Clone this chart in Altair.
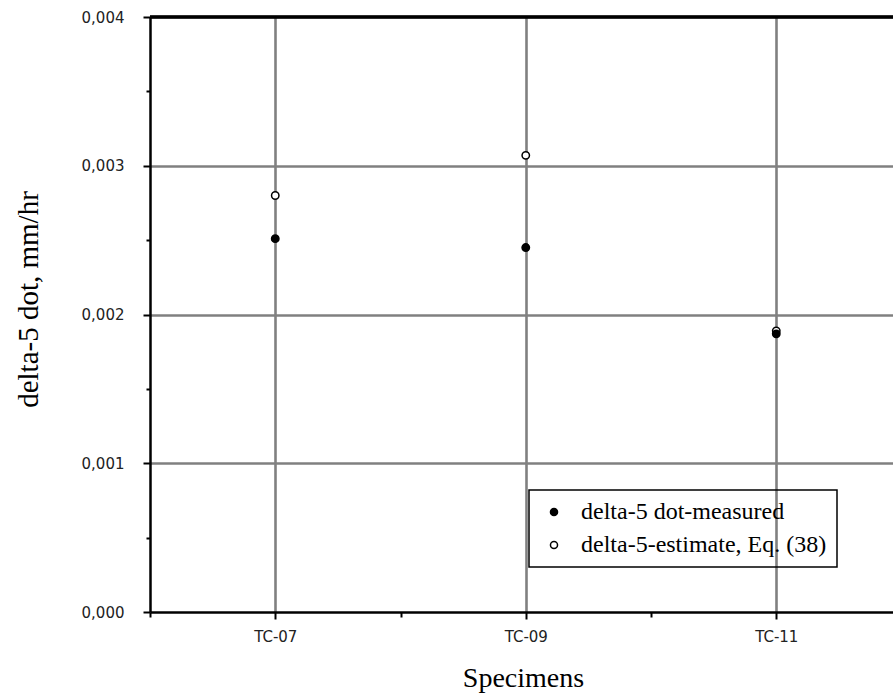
import altair as alt
import pandas as pd

# Specimens and creep-rate values (mm/hr)
specimens = ["TC-07", "TC-09", "TC-11"]
measured = [0.00251, 0.00245, 0.00187]
estimated = [0.00280, 0.00307, 0.00189]
series_names = ["delta-5 dot-measured", "delta-5-estimate, Eq. (38)"]

# Axis tick values: majors carry labels, the halves are minor ticks
x_ticks = [-0.5, 0, 0.5, 1, 1.5, 2]
y_ticks = [0.0, 0.0005, 0.001, 0.0015, 0.002, 0.0025, 0.003, 0.0035, 0.004]

rows = []
for name, vals in ((series_names[1], estimated), (series_names[0], measured)):
    for i, (s, v) in enumerate(zip(specimens, vals)):
        rows.append({"specimen": s, "pos": i, "rate": v, "series": name})
df = pd.DataFrame(rows)

label_array = "[" + ",".join("'" + s + "'" for s in specimens) + "]"
x_minor = "datum.value - floor(datum.value) !== 0"
x_label_expr = "(" + x_minor + ") ? '' : " + label_array + "[datum.value]"
y_major = "abs(datum.value * 1000 - round(datum.value * 1000)) < 1e-6"
y_label_expr = "(" + y_major + ") ? replace(format(datum.value, '.3f'), '.', ',') : ''"

W, H = 743, 595
SERIF = "Liberation Serif"
SANS = "DejaVu Sans"

x_axis = alt.Axis(
    values=x_ticks,
    labelExpr=x_label_expr,
    title="Specimens",
    titleFont=SERIF, titleFontSize=28, titleFontWeight="normal", titleColor="black",
    titleX=373, titleY=74, titleBaseline="alphabetic", titleAlign="center",
    labelFont=SANS, labelFontSize=15, labelColor="#222", labelPadding=10,
    domainColor="black", domainWidth=2.5,
    tickColor="black", tickWidth=2,
    tickSize={"condition": {"test": x_minor, "value": 5}, "value": 7},
    grid=True, gridColor="#808080", gridWidth=2.6,
    gridOpacity={"condition": {"test": x_minor, "value": 0}, "value": 1},
)

y_axis = alt.Axis(
    values=y_ticks,
    labelExpr=y_label_expr,
    title="delta-5 dot, mm/hr",
    titleFont=SERIF, titleFontSize=29, titleFontWeight="normal", titleColor="black",
    titleX=-122, titleY=282, titleBaseline="middle", titleAlign="center", titleAngle=270,
    labelFont=SANS, labelFontSize=15, labelColor="#222", labelPadding=19,
    domainColor="black", domainWidth=2.5,
    tickColor="black", tickWidth=2,
    tickSize={"condition": {"test": "!(" + y_major + ")", "value": 4}, "value": 7},
    grid=True, gridColor="#808080", gridWidth=2.6,
    gridOpacity={"condition": {"test": "!(" + y_major + ") || datum.value <= 0 || datum.value >= 0.0039",
                               "value": 0}, "value": 1},
)

points = alt.Chart(df).mark_point(
    shape="circle", filled=True, stroke="black", strokeWidth=1.5, size=55, opacity=1
).encode(
    x=alt.X("pos:Q", scale=alt.Scale(domain=[-0.5, 2.466], nice=False, zero=False), axis=x_axis),
    y=alt.Y("rate:Q", scale=alt.Scale(domain=[0, 0.004], nice=False, zero=True), axis=y_axis),
    fill=alt.Fill(
        "series:N",
        scale=alt.Scale(domain=series_names, range=["black", "white"]),
        sort=series_names,
        legend=alt.Legend(
            title=None, orient="none", legendX=379, legendY=473,
            strokeColor="black", padding=10, symbolOffset=3,
            labelFont=SERIF, labelFontSize=24, labelColor="black", labelOffset=15,
            labelLimit=0, rowPadding=9,
            symbolType="circle", symbolSize=50, symbolStrokeColor="black", symbolStrokeWidth=1.5,
        ),
    ),
)

# Upper frame line of the plot area
top_line = alt.Chart(df).mark_rule(color="black", strokeWidth=2.5).encode(
    x=alt.value(0), x2=alt.value(W), y=alt.value(0)
)

chart = alt.layer(points, top_line).properties(
    width=W, height=H,
    padding={"left": 150, "top": 17, "right": 0, "bottom": 83},
    autosize=alt.AutoSizeParams(type="none"),
    background="white",
).configure_view(stroke=None).configure_legend(strokeWidth=1.5)

chart.save("out.html", embed_options={"renderer": "svg", "actions": False})
